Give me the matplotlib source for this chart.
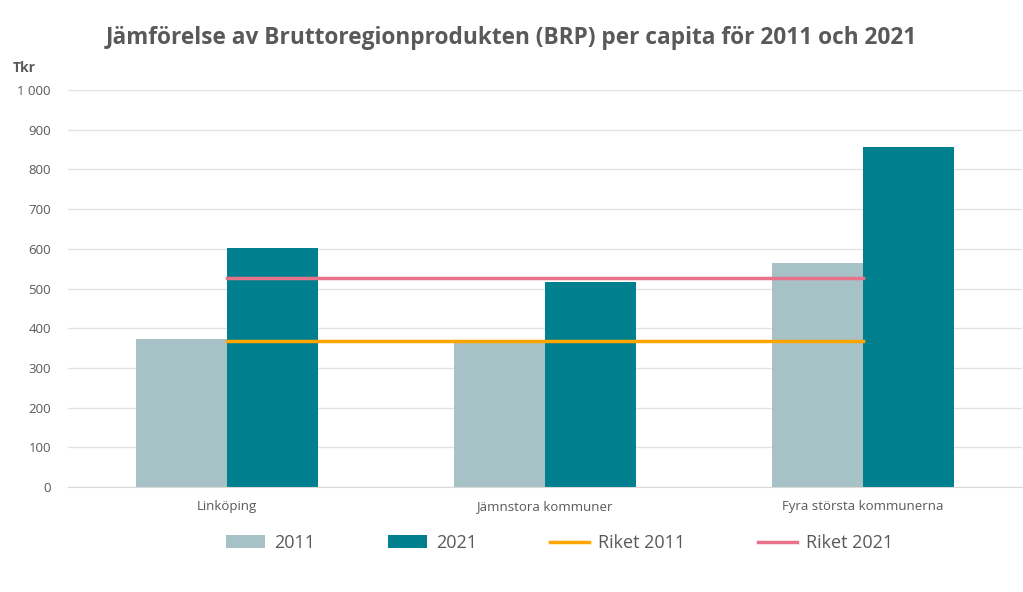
import numpy as np
import matplotlib.pyplot as plt
from matplotlib.ticker import FuncFormatter

categories = ["Linköping", "Jämnstora kommuner", "Fyra största kommunerna"]
brp_2011 = [372, 363, 564]
brp_2021 = [602, 516, 856]
riket_2011 = 368
riket_2021 = 526

plt.rcParams['font.family'] = ['Open Sans', 'DejaVu Sans']

fig = plt.figure(figsize=(10.23, 5.92), dpi=100)
ax = fig.add_axes([0.066, 0.177, 0.933, 0.671])

x = np.arange(len(categories))
w = 0.286
b1 = ax.bar(x - w / 2, brp_2011, w, color="#a7c2c7", label="2011", zorder=2)
b2 = ax.bar(x + w / 2, brp_2021, w, color="#00808f", label="2021", zorder=2)
l1, = ax.plot([x[0], x[-1]], [riket_2011] * 2, color="#ffa500", lw=2.5,
              label="Riket 2011", zorder=3)
l2, = ax.plot([x[0], x[-1]], [riket_2021] * 2, color="#e8728a", lw=2.5,
              label="Riket 2021", zorder=3)

ax.set_xlim(-0.5, 2.5)
ax.set_ylim(0, 1000)
ax.set_yticks(range(0, 1001, 100))
ax.yaxis.set_major_formatter(FuncFormatter(lambda v, p: f"{int(v):,}".replace(",", " ")))
ax.grid(axis="y", color="#e3e3e3", lw=1, zorder=0)
ax.set_axisbelow(True)
for s in ["left", "right", "top"]:
    ax.spines[s].set_visible(False)
ax.spines["bottom"].set_color("#d9d9d9")
ax.tick_params(axis="both", length=0, colors="#595959")
ax.tick_params(axis="y", pad=12, labelsize=9.5)
ax.tick_params(axis="x", pad=9, labelsize=9.5)
ax.set_xticks(x)
ax.set_xticklabels(categories)

fig.text(0.5, 0.935, "Jämförelse av Bruttoregionprodukten (BRP) per capita för 2011 och 2021",
         ha="center", va="center", fontsize=16.3, fontweight="bold", color="#595959")
fig.text(0.012, 0.885, "Tkr", ha="left", va="center", fontsize=10,
         fontweight="bold", color="#595959")

fig.legend([b1, b2, l1, l2], ["2011", "2021", "Riket 2011", "Riket 2021"],
           loc="center", bbox_to_anchor=(0.547, 0.083), ncol=4, frameon=False,
           fontsize=13, labelcolor="#595959", handlelength=2.2, handletextpad=0.5,
           columnspacing=4.0)

fig.savefig("out.png", dpi=100)
